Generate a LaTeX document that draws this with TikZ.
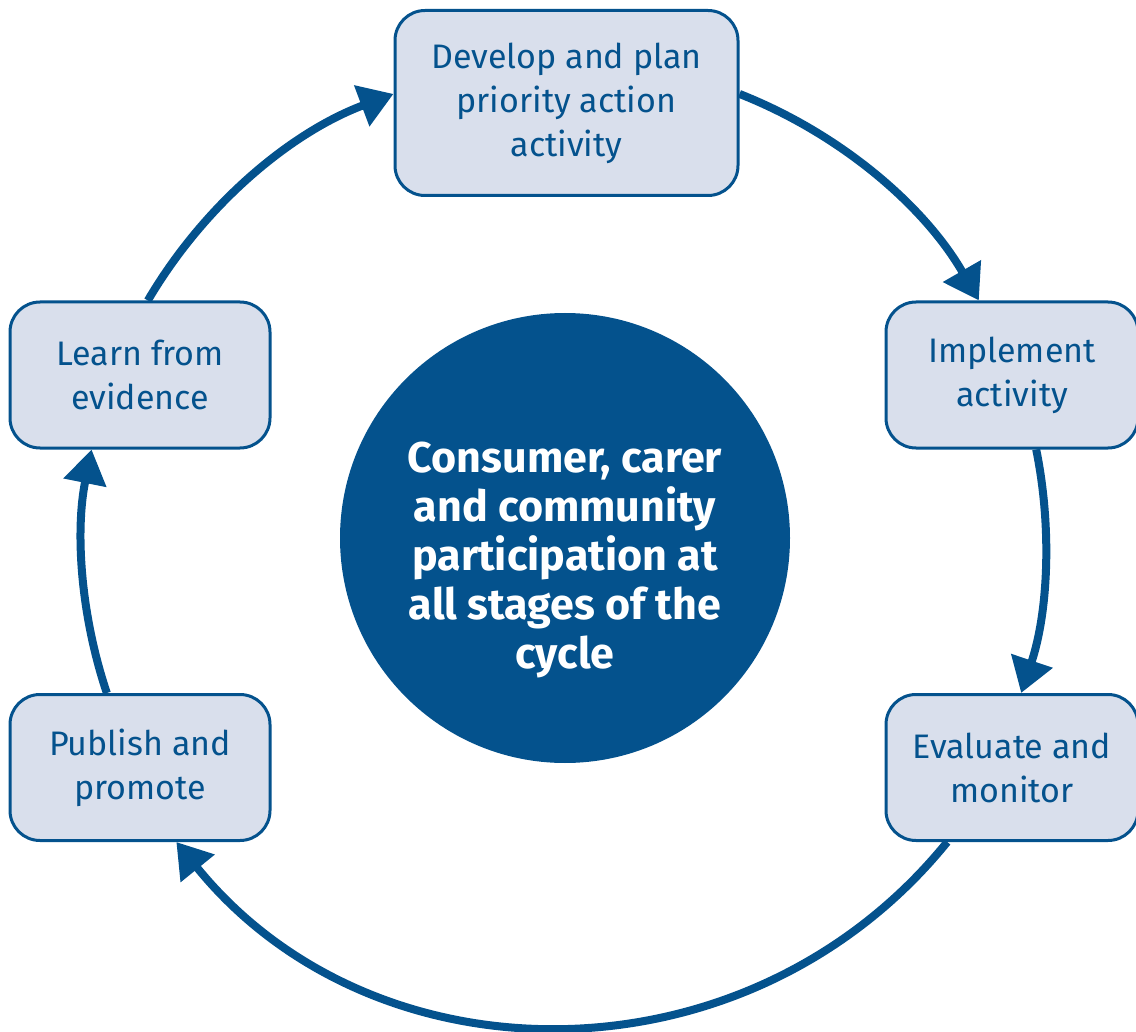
\documentclass[tikz,border=0pt]{standalone}
\usepackage{fontspec}
\setmainfont{Fira Sans}
\usetikzlibrary{arrows.meta}
\definecolor{navy}{HTML}{04528D}
\definecolor{paleblue}{HTML}{D9DFEC}
\tikzset{
  stage/.style={draw=navy, line width=1.5pt, fill=paleblue, rounded corners=15pt,
    text=navy, align=center, minimum width=130pt, minimum height=73pt,
    font=\fontsize{17}{22}\selectfont},
  cyc/.style={draw=navy, line width=4pt, -{Triangle[length=17pt,width=21pt]}}
}
\begin{document}
\begin{tikzpicture}[x=0.5pt,y=-0.5pt]
\useasboundingbox (0,0) rectangle (1136,1032);
\node[circle, fill=navy, minimum size=225pt, text=white, align=center,
  font=\bfseries\fontsize{21.5}{24.5}\selectfont] (hub) at (565,538)
  {\rule{0pt}{37pt}Consumer, carer\\and community\\participation at\\all stages of the\\cycle};
\node[stage, minimum width=171.5pt, minimum height=92.5pt] (plan) at (566.5,103)
  {Develop and plan\\priority action\\activity};
\node[stage, minimum width=126pt] (implement) at (1012,375) {Implement\\activity};
\node[stage, minimum width=126pt] (evaluate) at (1012,767.5) {Evaluate and\\monitor};
\node[stage] (publish) at (140,767.5) {Publish and\\promote};
\node[stage] (learn) at (140,375) {Learn from\\evidence};
\draw[cyc] (learn.84) to[bend left=19.5, looseness=0.88] (plan.177);
\draw[cyc] (plan.3) to[bend left=19.3, looseness=0.88] (implement.114);
\draw[cyc] (implement.-72) to[bend left=15, looseness=0.87] (evaluate.83);
\draw[cyc] (evaluate.229) to[bend left=51, looseness=1.05] (publish.-64);
\draw[cyc] (publish.114) to[bend left=15, looseness=0.87] (learn.-123);
\end{tikzpicture}
\end{document}
